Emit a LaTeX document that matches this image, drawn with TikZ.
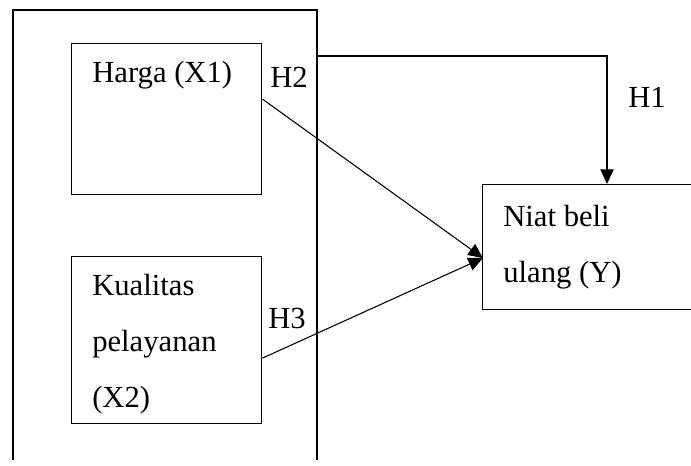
\documentclass[tikz,border=0pt]{standalone}
\usepackage{fontspec}
\setmainfont{Liberation Serif}
\usetikzlibrary{arrows.meta,positioning,calc}

\tikzset{
  box/.style={draw, line width=1pt, inner sep=0pt},
  lbl/.style={font=\fontsize{23}{42}\selectfont, inner sep=0pt, anchor=base west, align=left},
  hyp/.style={-{Triangle[length=11pt,width=10pt]}, line width=0.8pt},
}

\begin{document}
\begin{tikzpicture}[x=0.75pt,y=0.75pt,yscale=-1,xscale=1]
  \useasboundingbox (0,0) rectangle (691,465);
  \clip (0,0) rectangle (691,465);
  % outer frame (open at the bottom)
  \draw [line width=1pt] (13,460) |- (317,10) -- (317,460);
  % variables
  \node [box, anchor=north west, minimum width=190*0.75pt, minimum height=151*0.75pt] (harga) at (71,43) {};
  \node [box, anchor=north west, minimum width=190*0.75pt, minimum height=167*0.75pt] (kual) at (71,256) {};
  \node [box, anchor=north west, minimum width=240*0.75pt, minimum height=125*0.75pt] (niat) at (482,184) {};
  \node [lbl] (hargatxt) at (92,82) {Harga (X1)};
  \node [lbl] (kualtxt) at (92,407) {Kualitas\\pelayanan\\(X2)}; % base = last line
  \node [lbl] (niattxt) at (503,282) {Niat beli\\ulang (Y)};
  % hypotheses
  \coordinate (h1s) at (317,56);
  \coordinate (tip) at (483,258);
  \draw [hyp] (h1s) -| ($(niat.north west)+(125,0)$);
  \draw [hyp] ($(harga.north east)+(0,56)$) -- (tip);
  \draw [hyp] ($(kual.east)+(0,18)$) -- (tip);
  \node [lbl] (h1) at (628,107) {H1};
  \node [lbl] (h2) at (270,87) {H2};
  \node [lbl] (h3) at (268,328) {H3};
\end{tikzpicture}
\end{document}
